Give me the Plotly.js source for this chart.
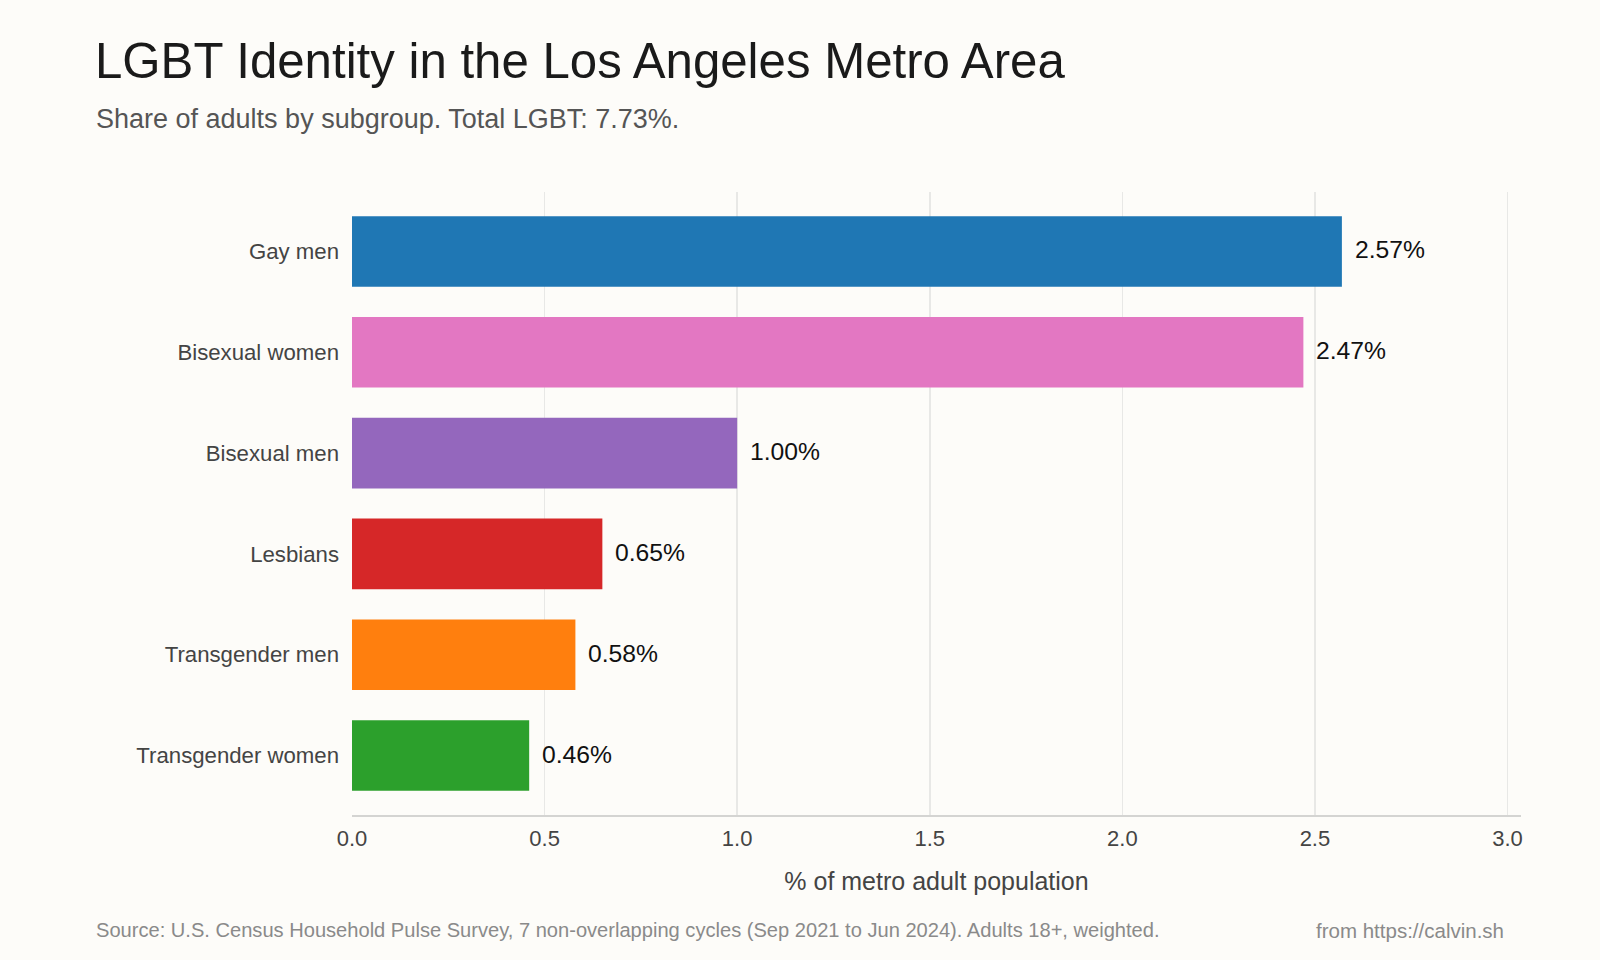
<!DOCTYPE html>
<html>
<head>
<meta charset="utf-8">
<script src="https://cdn.plot.ly/plotly-3.0.1.min.js"></script>
<style>
  html, body { margin: 0; padding: 0; background: #fdfcf9; }
  #chart { width: 1600px; height: 960px; }
</style>
</head>
<body>
<div id="chart"></div>
<script>
// ---- Data (top to bottom as shown) ----
const categories = ["Gay men", "Bisexual women", "Bisexual men", "Lesbians", "Transgender men", "Transgender women"];
const values = [2.57, 2.47, 1.00, 0.65, 0.58, 0.46];
const barColors = ["#1f77b4", "#e377c2", "#9467bd", "#d62728", "#ff7f0e", "#2ca02c"];
const xTickVals = [0, 0.5, 1.0, 1.5, 2.0, 2.5, 3.0];
const xTickText = ["0.0", "0.5", "1.0", "1.5", "2.0", "2.5", "3.0"];

const titleText = "LGBT Identity in the Los Angeles Metro Area";
const subtitleText = "Share of adults by subgroup. Total LGBT: 7.73%.";
const xTitleText = "% of metro adult population";
const sourceText = "Source: U.S. Census Household Pulse Survey, 7 non-overlapping cycles (Sep 2021 to Jun 2024). Adults 18+, weighted.";
const creditText = "from https://calvin.sh";

const FONT = '"Liberation Sans", Arial, Helvetica, sans-serif';

const trace = {
  type: "bar",
  orientation: "h",
  x: values,
  y: categories,
  marker: { color: barColors, line: { width: 0 } },
  hoverinfo: "skip"
};

const valueLabels = values.map((v, i) => ({
  x: v, y: categories[i], xref: "x", yref: "y",
  text: v.toFixed(2) + "%",
  showarrow: false, xanchor: "left", yanchor: "middle", xshift: 11, yshift: 1.5,
  font: { family: FONT, size: 24.7, color: "#111111" }
}));

const layout = {
  width: 1600, height: 960,
  paper_bgcolor: "#fdfcf9",
  plot_bgcolor: "#fdfcf9",
  margin: { l: 352, r: 79, t: 192, b: 145, pad: 0 },
  showlegend: false,
  bargap: 0.3,
  font: { family: FONT, color: "#444444" },
  title: {
    text: titleText,
    font: { family: FONT, size: 49.2, color: "#1a1a1a" },
    xref: "container", yref: "container",
    x: 95 / 1600, xanchor: "left",
    y: 0.937, yanchor: "middle",
    pad: { l: 0, r: 0, t: 0, b: 0 }
  },
  xaxis: {
    range: [0, 3.035],
    tickvals: xTickVals,
    ticktext: xTickText,
    tickfont: { family: FONT, size: 22, color: "#444444" },
    showgrid: true,
    gridcolor: "#e8e8e6",
    gridwidth: 1.5,
    zeroline: false,
    showline: true,
    linecolor: "#d4d4d2",
    linewidth: 2,
    ticks: "",
    ticklabelstandoff: 3,
    fixedrange: true,
    title: {
      text: xTitleText,
      font: { family: FONT, size: 25, color: "#444444" },
      standoff: 22
    }
  },
  yaxis: {
    range: [5.59, -0.59],
    type: "category",
    categoryorder: "array",
    categoryarray: categories,
    tickfont: { family: FONT, size: 22.2, color: "#444444" },
    showgrid: false,
    zeroline: false,
    showline: false,
    ticks: "",
    ticklabelstandoff: 12,
    fixedrange: true
  },
  annotations: valueLabels.concat([
    {
      text: subtitleText, xref: "paper", yref: "paper",
      x: (94 - 352) / 1169, y: 1.1168, xanchor: "left", yanchor: "middle",
      showarrow: false,
      font: { family: FONT, size: 27, color: "#555555" }
    },
    {
      text: sourceText, xref: "paper", yref: "paper",
      x: (94 - 352) / 1169, y: -0.1852, xanchor: "left", yanchor: "middle",
      showarrow: false,
      font: { family: FONT, size: 20.1, color: "#8a8a8a" }
    },
    {
      text: creditText, xref: "paper", yref: "paper",
      x: (1506 - 352) / 1169, y: -0.1852, xanchor: "right", yanchor: "middle",
      showarrow: false,
      font: { family: FONT, size: 20.5, color: "#8a8a8a" }
    }
  ])
};

Plotly.newPlot("chart", [trace], layout, { displayModeBar: false, staticPlot: true });
</script>
</body>
</html>
